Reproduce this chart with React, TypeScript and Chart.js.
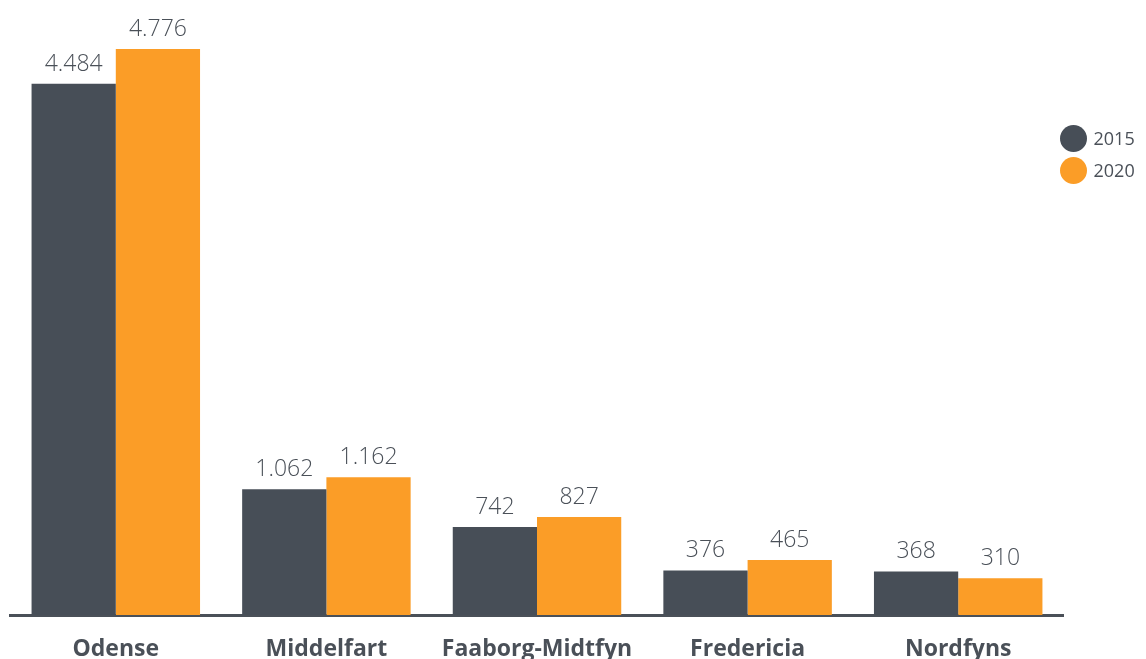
import React, { useEffect, useRef } from "react";
import { Chart, registerables } from "chart.js";

Chart.register(...registerables);

const categories = ["Odense", "Middelfart", "Faaborg-Midtfyn", "Fredericia", "Nordfyns"];
const values2015 = [4484, 1062, 742, 376, 368];
const values2020 = [4776, 1162, 827, 465, 310];
const seriesLabels = ["2015", "2020"];
const colors = ["#474e57", "#fb9d27"];
const textColor = "#4a5058";

const fmt = (v: number) => v.toLocaleString("da-DK");

const valueLabelPlugin = {
  id: "valueLabels",
  afterDatasetsDraw(chart: any) {
    const ctx = chart.ctx;
    ctx.save();
    ctx.font = "300 23px 'Open Sans', sans-serif";
    ctx.fillStyle = textColor;
    ctx.textAlign = "center";
    ctx.textBaseline = "alphabetic";
    chart.data.datasets.forEach((ds: any, i: number) => {
      const meta = chart.getDatasetMeta(i);
      meta.data.forEach((bar: any, j: number) => {
        ctx.fillText(fmt(ds.data[j]), bar.x, bar.y - 13);
      });
    });
    ctx.restore();
  },
};

const categoryLabelPlugin = {
  id: "categoryLabels",
  afterDraw(chart: any) {
    const ctx = chart.ctx;
    const xScale = chart.scales.x;
    ctx.save();
    ctx.font = "bold 23px 'Open Sans', sans-serif";
    ctx.fillStyle = textColor;
    ctx.textAlign = "center";
    ctx.textBaseline = "alphabetic";
    chart.data.labels.forEach((lab: string, i: number) => {
      ctx.fillText(lab, xScale.getPixelForValue(i), chart.chartArea.bottom + 41);
    });
    ctx.restore();
  },
};

const legendPlugin = {
  id: "customLegend",
  afterDraw(chart: any) {
    const ctx = chart.ctx;
    const x = chart.chartArea.right + 10;
    const ys = [138.5, 170.5];
    ctx.save();
    chart.data.datasets.forEach((ds: any, i: number) => {
      ctx.beginPath();
      ctx.fillStyle = ds.backgroundColor;
      ctx.arc(x, ys[i], 13.5, 0, Math.PI * 2);
      ctx.fill();
      ctx.fillStyle = textColor;
      ctx.font = "400 18px 'Open Sans', sans-serif";
      ctx.textAlign = "left";
      ctx.textBaseline = "middle";
      ctx.fillText(ds.label, x + 20, ys[i] + 1);
    });
    ctx.restore();
  },
};

export default function App() {
  const ref = useRef<HTMLCanvasElement>(null);
  useEffect(() => {
    if (!ref.current) return;
    const chart = new Chart(ref.current, {
      type: "bar",
      data: {
        labels: categories,
        datasets: [
          { label: seriesLabels[0], data: values2015, backgroundColor: colors[0] },
          { label: seriesLabels[1], data: values2020, backgroundColor: colors[1] },
        ],
      },
      options: {
        animation: false,
        responsive: false,
        maintainAspectRatio: false,
        layout: { padding: { left: 10.5, right: 82.5, top: 0, bottom: 44 } },
        datasets: { bar: { categoryPercentage: 0.8, barPercentage: 1.0 } },
        plugins: { legend: { display: false }, tooltip: { enabled: false } },
        scales: {
          x: {
            grid: { display: false, drawTicks: false },
            border: { display: true, color: textColor, width: 3 },
            ticks: { display: false },
          },
          y: { display: false, min: 0, max: 5190 },
        },
      },
      plugins: [valueLabelPlugin, categoryLabelPlugin, legendPlugin],
    });
    return () => chart.destroy();
  }, []);
  return (
    <div style={{ position: "fixed", left: 0, top: 0, width: 1146, height: 659, background: "#fff" }}>
      <canvas ref={ref} width={1146} height={659} style={{ width: 1146, height: 659 }} />
    </div>
  );
}
